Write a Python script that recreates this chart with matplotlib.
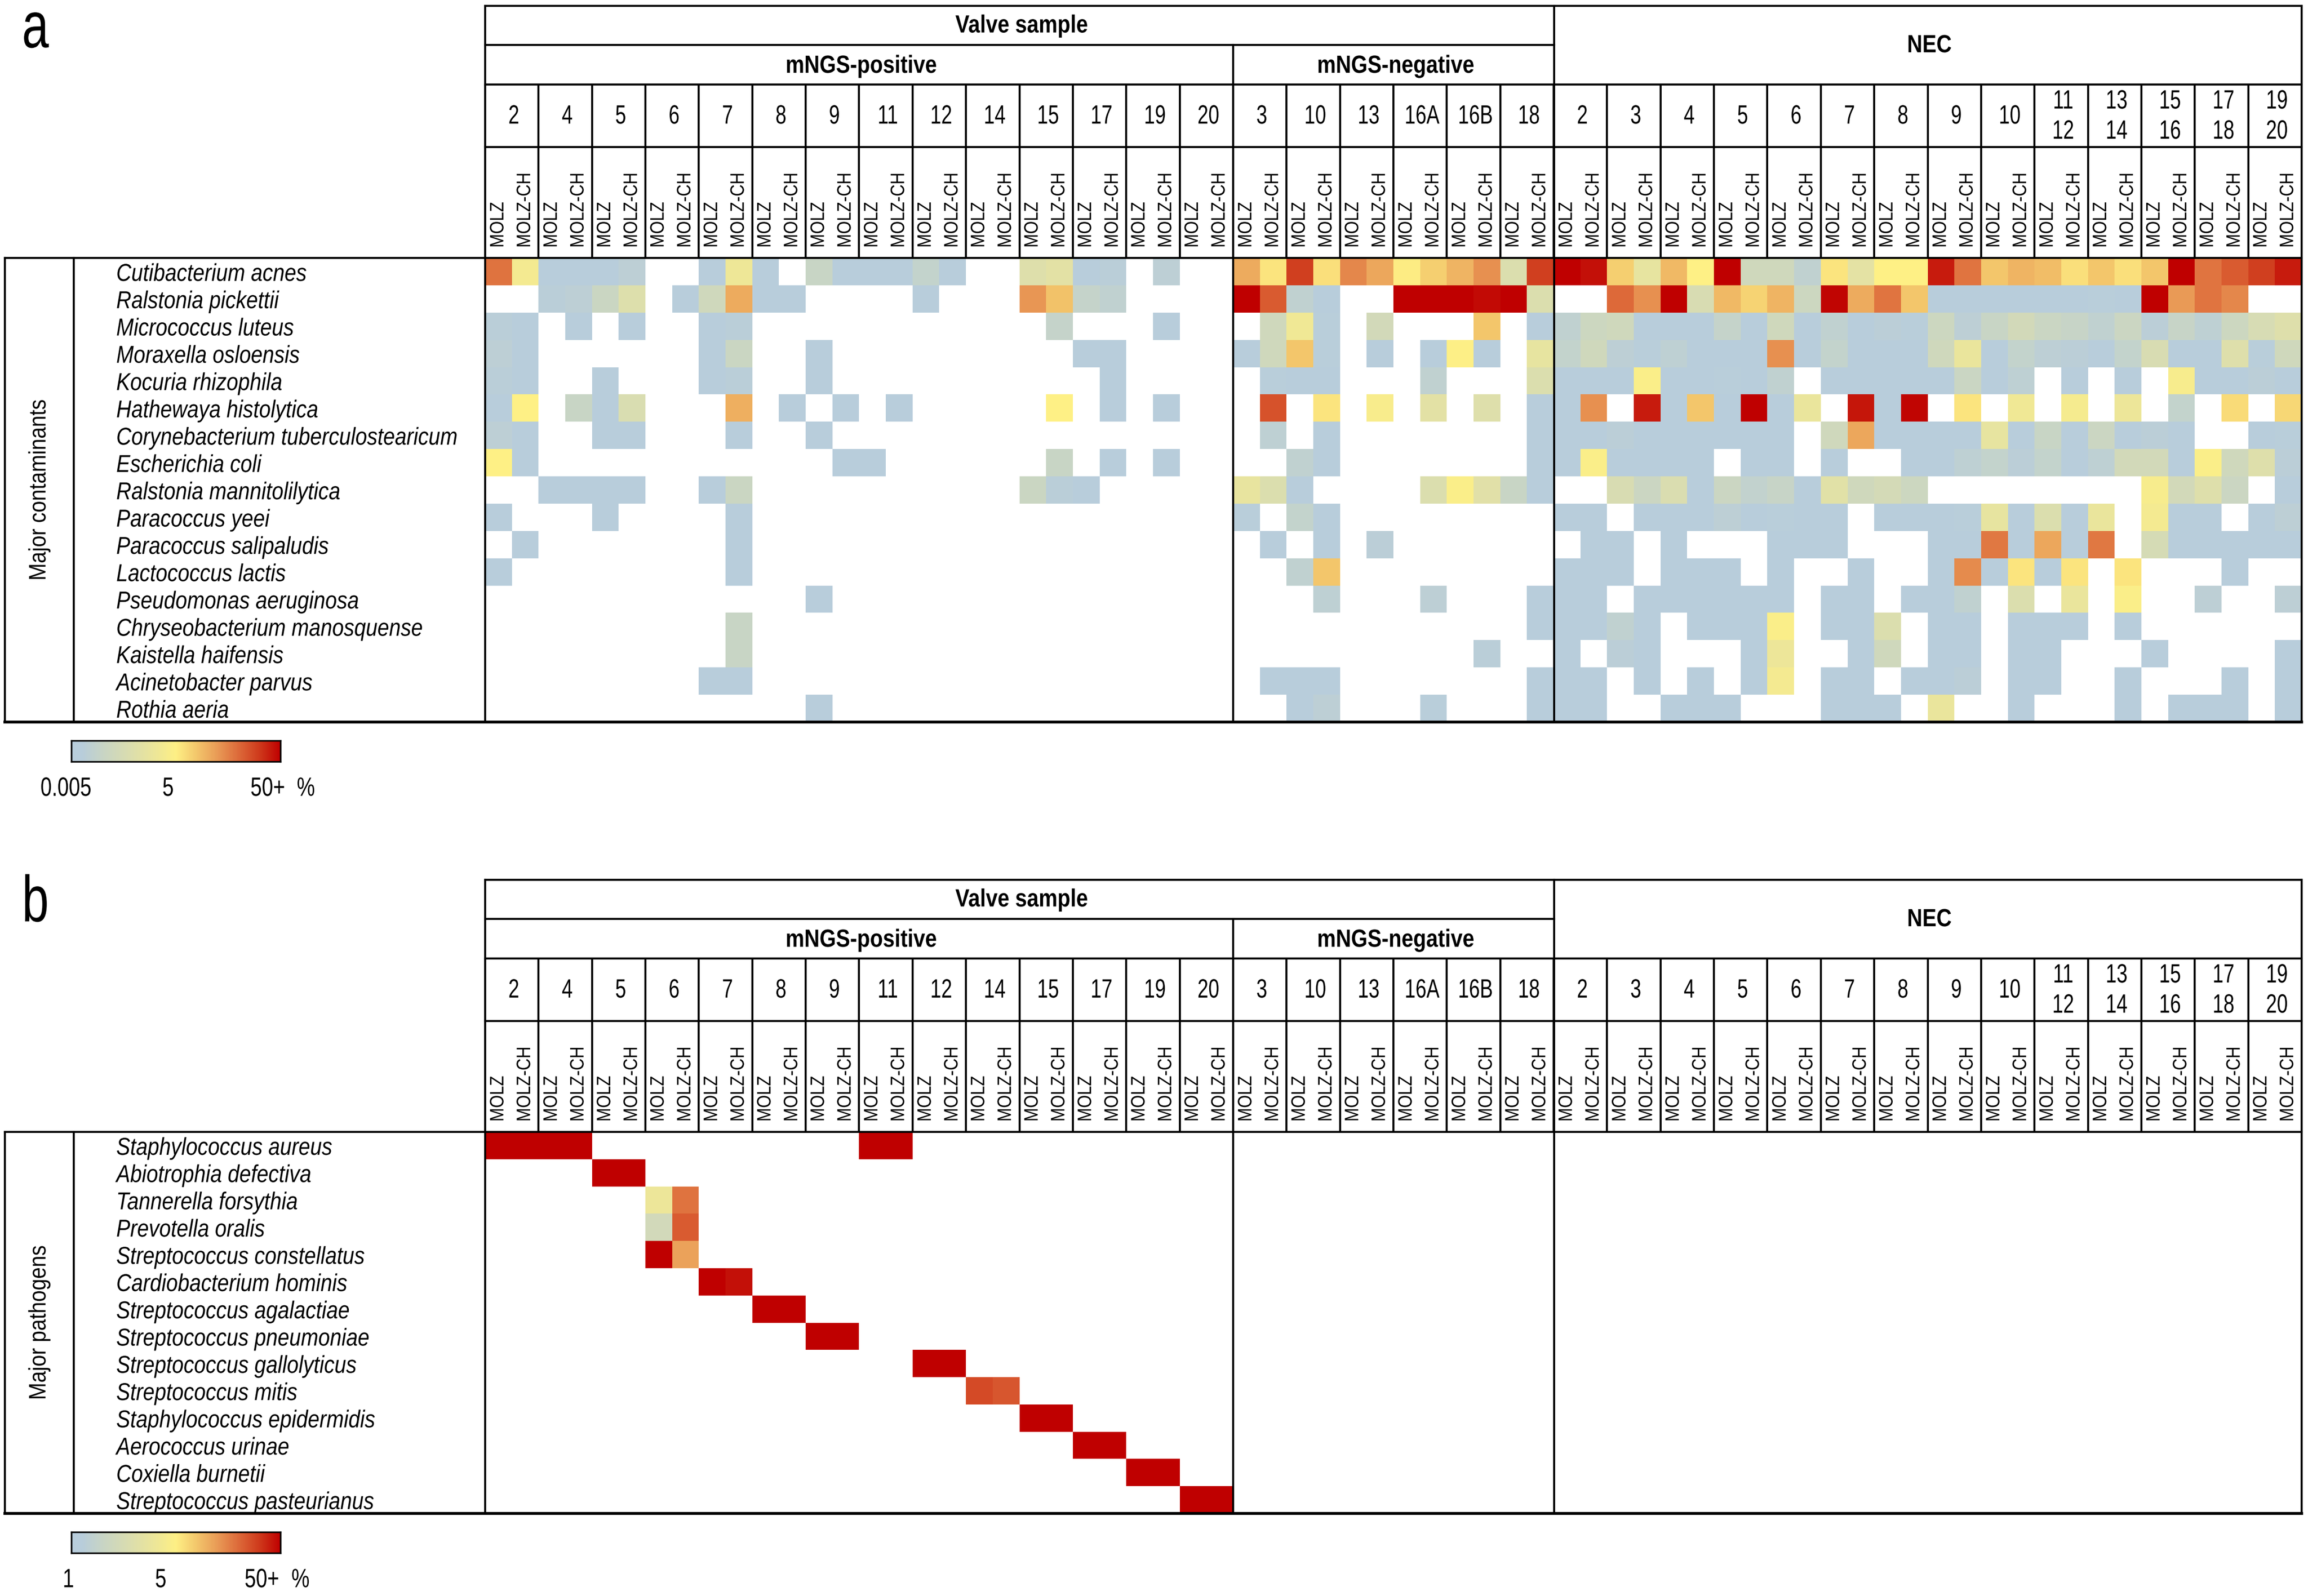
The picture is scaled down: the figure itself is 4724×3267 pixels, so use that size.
import numpy as np
import matplotlib
matplotlib.use("Agg")
import matplotlib.pyplot as plt
from matplotlib.colors import LinearSegmentedColormap, FuncNorm
from matplotlib.patheffects import AbstractPathEffect
from matplotlib.transforms import Affine2D

# canvas in pixels, everything below is laid out in these units
W, H = 4724, 3267
DPI = 300

plt.rcParams['font.family'] = ['Liberation Sans', 'DejaVu Sans']

# sample labels
pos_samples = ['2', '4', '5', '6', '7', '8', '9', '11', '12', '14', '15', '17', '19', '20']
neg_samples = ['3', '10', '13', '16A', '16B', '18']
nec_samples = ['2', '3', '4', '5', '6', '7', '8', '9', '10', '11\n12', '13\n14', '15\n16', '17\n18', '19\n20']

contaminants = ['Cutibacterium acnes', 'Ralstonia pickettii', 'Micrococcus luteus', 'Moraxella osloensis',
                'Kocuria rhizophila', 'Hathewaya histolytica', 'Corynebacterium tuberculostearicum',
                'Escherichia coli', 'Ralstonia mannitolilytica', 'Paracoccus yeei', 'Paracoccus salipaludis',
                'Lactococcus lactis', 'Pseudomonas aeruginosa', 'Chryseobacterium manosquense',
                'Kaistella haifensis', 'Acinetobacter parvus', 'Rothia aeria']
pathogens = ['Staphylococcus aureus', 'Abiotrophia defectiva', 'Tannerella forsythia', 'Prevotella oralis',
             'Streptococcus constellatus', 'Cardiobacterium hominis', 'Streptococcus agalactiae',
             'Streptococcus pneumoniae', 'Streptococcus gallolyticus', 'Streptococcus mitis',
             'Staphylococcus epidermidis', 'Aerococcus urinae', 'Coxiella burnetii', 'Streptococcus pasteurianus']

# percent of reads, 0 = not detected. each row has MOLZ, MOLZ-CH per sample
a_pos = [
    [18.2, 2.2, .007, .007, .009, .015, 0, 0, .007, 1.4, .007, 0, .04, .007, .007, .007, .026, .007, 0, 0, .32, .5, .01, .012, 0, .015, 0, 0],
    [0, 0, .012, .015, .05, .3, 0, .007, .08, 10.5, .007, .007, 0, 0, 0, 0, .007, 0, 0, 0, 13, 8.2, .03, .02, 0, 0, 0, 0],
    [.012, .009, 0, .007, 0, .007, 0, 0, .007, .012, 0, 0, 0, 0, 0, 0, 0, 0, 0, 0, 0, .03, 0, 0, 0, .007, 0, 0],
    [.015, .007, 0, 0, 0, 0, 0, 0, .007, .05, 0, 0, .007, 0, 0, 0, 0, 0, 0, 0, 0, 0, .007, .007, 0, 0, 0, 0],
    [.012, .007, 0, 0, .007, 0, 0, 0, .008, .012, 0, 0, .007, 0, 0, 0, 0, 0, 0, 0, 0, 0, 0, .007, 0, 0, 0, 0],
    [.007, 5, 0, .04, .007, .2, 0, 0, 0, 10, 0, .009, 0, .007, 0, .007, 0, 0, 0, 0, 0, 5, 0, .007, 0, .007, 0, 0],
    [.015, .007, 0, 0, .007, .007, 0, 0, 0, .007, 0, 0, .01, 0, 0, 0, 0, 0, 0, 0, 0, 0, 0, 0, 0, 0, 0, 0],
    [5, .007, 0, 0, 0, 0, 0, 0, 0, 0, 0, 0, 0, .007, .007, 0, 0, 0, 0, 0, 0, .04, 0, .007, 0, .007, 0, 0],
    [0, 0, .007, .007, .007, .007, 0, 0, .007, .05, 0, 0, 0, 0, 0, 0, 0, 0, 0, 0, .05, .012, .007, 0, 0, 0, 0, 0],
    [.007, 0, 0, 0, .007, 0, 0, 0, 0, .007, 0, 0, 0, 0, 0, 0, 0, 0, 0, 0, 0, 0, 0, 0, 0, 0, 0, 0],
    [0, .007, 0, 0, 0, 0, 0, 0, 0, .007, 0, 0, 0, 0, 0, 0, 0, 0, 0, 0, 0, 0, 0, 0, 0, 0, 0, 0],
    [.007, 0, 0, 0, 0, 0, 0, 0, 0, .007, 0, 0, 0, 0, 0, 0, 0, 0, 0, 0, 0, 0, 0, 0, 0, 0, 0, 0],
    [0, 0, 0, 0, 0, 0, 0, 0, 0, 0, 0, 0, .007, 0, 0, 0, 0, 0, 0, 0, 0, 0, 0, 0, 0, 0, 0, 0],
    [0, 0, 0, 0, 0, 0, 0, 0, 0, .04, 0, 0, 0, 0, 0, 0, 0, 0, 0, 0, 0, 0, 0, 0, 0, 0, 0, 0],
    [0, 0, 0, 0, 0, 0, 0, 0, 0, .04, 0, 0, 0, 0, 0, 0, 0, 0, 0, 0, 0, 0, 0, 0, 0, 0, 0, 0],
    [0, 0, 0, 0, 0, 0, 0, 0, .007, .007, 0, 0, 0, 0, 0, 0, 0, 0, 0, 0, 0, 0, 0, 0, 0, 0, 0, 0],
    [0, 0, 0, 0, 0, 0, 0, 0, 0, 0, 0, 0, .007, 0, 0, 0, 0, 0, 0, 0, 0, 0, 0, 0, 0, 0, 0, 0],
]
a_neg = [
    [10.5, 5.7, 30, 6, 15, 11, 5.2, 7.2, 9.5, 13.8, .24, 30],
    [50, 23, .02, .007, 0, 0, 50, 50, 50, 46, 50, .24],
    [0, .08, 1.66, .011, 0, .1, 0, 0, 0, 7.9, 0, .009],
    [.01, .08, 7.9, .011, 0, .008, 0, .01, 4.5, .01, 0, .72],
    [0, .011, .01, .009, 0, 0, 0, .02, 0, 0, 0, .24],
    [0, 25, 0, 5.7, 0, 3, 0, .5, 0, .32, 0, .009],
    [0, .017, 0, .007, 0, 0, 0, 0, 0, 0, 0, .007],
    [0, 0, .02, .008, 0, 0, 0, 0, 0, 0, 0, .008],
    [.8, .24, .007, 0, 0, 0, 0, .24, 3.8, .4, .04, .008],
    [.011, 0, .026, .008, 0, 0, 0, 0, 0, 0, 0, 0],
    [0, .007, 0, .008, 0, .013, 0, 0, 0, 0, 0, 0],
    [0, 0, .02, 7.9, 0, 0, 0, 0, 0, 0, 0, 0],
    [0, 0, 0, .017, 0, 0, 0, .015, 0, 0, 0, .007],
    [0, 0, 0, 0, 0, 0, 0, 0, 0, 0, 0, .007],
    [0, 0, 0, 0, 0, 0, 0, 0, 0, .012, 0, 0],
    [0, .007, .007, .007, 0, 0, 0, 0, 0, 0, 0, .007],
    [0, 0, .007, .015, 0, 0, 0, .011, 0, 0, 0, .007],
]
a_nec = [
    [50, 44, 7.2, .72, 9.1, 5, 50, .08, .08, .02, 5.7, .55, 5, 5, 40, 18, 7.9, 9.5, 8.7, 6, 7.9, 6, 7.9, 50, 18, 23, 30, 40],
    [0, 0, 20, 13.8, 50, .18, 9.1, 6.9, 9.5, .06, 48, 10.5, 18, 7.9, .008, .009, .01, .008, .008, .009, .011, .009, 50, 12.6, 18, 15, 0, 0],
    [.02, .06, .08, .01, .01, .01, .03, .01, .08, .007, .02, .009, .013, .011, .06, .015, .04, .1, .046, .035, .02, .052, .013, .035, .017, .06, .16, .32],
    [.026, .08, .015, .011, .017, .01, .01, .01, 13.8, .007, .026, .008, .008, .008, .08, .95, .01, .026, .015, .013, .01, .026, .18, .01, .01, .32, .011, .08],
    [.009, .008, .009, 3.8, .008, .008, .011, .01, .02, 0, .008, .008, .008, .008, .008, .046, .009, .017, 0, .01, 0, .01, 0, 2.9, .008, .008, .013, .01],
    [.008, 13.8, 0, 40, .008, 7.9, .008, 50, .009, .95, 0, 42, .008, 48, 0, 5.7, 0, 1.66, 0, 2.5, 0, 1.26, 0, .026, 0, 6.3, 0, 6.6],
    [.009, .009, .013, .008, .009, .009, .008, .008, .008, 0, .08, 11, .008, .008, .008, .01, .72, .01, .04, .008, .052, .008, .013, .008, 0, 0, .008, .011],
    [.01, 3.8, .008, .008, .008, .009, 0, .008, .008, 0, .008, 0, 0, .008, .008, .017, .026, .013, .026, .01, .017, .1, .1, .009, 3.8, .08, .32, .013],
    [0, 0, .18, .052, .21, .008, .052, .023, .035, .008, .42, .08, .12, .06, 0, 0, 0, 0, 0, 0, 0, 0, 2.9, .1, .32, .052, 0, .008],
    [.008, .008, 0, .008, .008, .008, .015, .008, .011, .008, .008, 0, .008, .008, .008, .011, .72, .008, .24, .008, .95, 0, 2.2, .008, .008, 0, .01, .015],
    [0, .008, .008, 0, .008, 0, 0, 0, .008, .008, .008, 0, 0, 0, .008, .008, 17.4, .008, 11, .008, 17.4, 0, .14, .008, .009, .008, .008, .008],
    [.008, .008, .008, 0, .008, .01, .009, 0, .008, 0, 0, .008, 0, 0, .008, 14.5, .008, 5.7, .008, 5.7, 0, 5.7, 0, 0, 0, .008, 0, 0],
    [.008, .008, 0, .008, .008, .008, .008, .008, .008, 0, .008, .008, 0, .008, .008, .02, 0, .24, 0, .95, 0, 3.8, 0, 0, .015, 0, 0, .015],
    [.008, .008, .02, .008, 0, .008, .008, .01, 3.8, 0, .008, .008, .24, 0, .008, .008, 0, .008, .008, .008, 0, .008, 0, 0, 0, 0, 0, 0],
    [.008, 0, .013, .008, 0, 0, 0, .008, 1.26, 0, 0, .008, .08, 0, .008, .008, 0, .008, .008, 0, 0, 0, .008, 0, 0, 0, 0, .008],
    [.008, .008, 0, .008, 0, .008, 0, .008, 2.2, 0, .008, .008, 0, .008, .008, .013, 0, .008, .008, 0, 0, .008, 0, 0, 0, .008, 0, .008],
    [.008, .008, 0, 0, .008, .008, .008, 0, 0, 0, .008, .008, .008, 0, .95, 0, 0, .008, 0, 0, 0, .008, 0, .008, .008, .008, 0, .008],
]

b_pos = [
    [50, 50, 50, 50, 0, 0, 0, 0, 0, 0, 0, 0, 0, 0, 50, 50, 0, 0, 0, 0, 0, 0, 0, 0, 0, 0, 0, 0],
    [0, 0, 0, 0, 50, 50, 0, 0, 0, 0, 0, 0, 0, 0, 0, 0, 0, 0, 0, 0, 0, 0, 0, 0, 0, 0, 0, 0],
    [0, 0, 0, 0, 0, 0, 3.6, 18.2, 0, 0, 0, 0, 0, 0, 0, 0, 0, 0, 0, 0, 0, 0, 0, 0, 0, 0, 0, 0],
    [0, 0, 0, 0, 0, 0, 2, 23, 0, 0, 0, 0, 0, 0, 0, 0, 0, 0, 0, 0, 0, 0, 0, 0, 0, 0, 0, 0],
    [0, 0, 0, 0, 0, 0, 50, 11.5, 0, 0, 0, 0, 0, 0, 0, 0, 0, 0, 0, 0, 0, 0, 0, 0, 0, 0, 0, 0],
    [0, 0, 0, 0, 0, 0, 0, 0, 50, 43.7, 0, 0, 0, 0, 0, 0, 0, 0, 0, 0, 0, 0, 0, 0, 0, 0, 0, 0],
    [0, 0, 0, 0, 0, 0, 0, 0, 0, 0, 50, 50, 0, 0, 0, 0, 0, 0, 0, 0, 0, 0, 0, 0, 0, 0, 0, 0],
    [0, 0, 0, 0, 0, 0, 0, 0, 0, 0, 0, 0, 50, 50, 0, 0, 0, 0, 0, 0, 0, 0, 0, 0, 0, 0, 0, 0],
    [0, 0, 0, 0, 0, 0, 0, 0, 0, 0, 0, 0, 0, 0, 0, 0, 50, 50, 0, 0, 0, 0, 0, 0, 0, 0, 0, 0],
    [0, 0, 0, 0, 0, 0, 0, 0, 0, 0, 0, 0, 0, 0, 0, 0, 0, 0, 27, 24, 0, 0, 0, 0, 0, 0, 0, 0],
    [0, 0, 0, 0, 0, 0, 0, 0, 0, 0, 0, 0, 0, 0, 0, 0, 0, 0, 0, 0, 50, 50, 0, 0, 0, 0, 0, 0],
    [0, 0, 0, 0, 0, 0, 0, 0, 0, 0, 0, 0, 0, 0, 0, 0, 0, 0, 0, 0, 0, 0, 50, 50, 0, 0, 0, 0],
    [0, 0, 0, 0, 0, 0, 0, 0, 0, 0, 0, 0, 0, 0, 0, 0, 0, 0, 0, 0, 0, 0, 0, 0, 50, 50, 0, 0],
    [0, 0, 0, 0, 0, 0, 0, 0, 0, 0, 0, 0, 0, 0, 0, 0, 0, 0, 0, 0, 0, 0, 0, 0, 0, 0, 50, 50],
]

cmap = LinearSegmentedColormap.from_list('rel_abund', [
    (0.0, '#b8cddb'), (0.05, '#b8cddb'), (0.15, '#c8d5c5'), (0.3, '#dedfab'), (0.42, '#f0e895'), (0.5, '#fef085'),
    (0.6, '#f3c66b'), (0.7, '#e99a56'), (0.8, '#dd6a3a'), (0.9, '#cf3a1c'), (1.0, '#bf0000')], N=512)
cmap.set_bad('white')


def make_norm(vmin):
    # log scale on both sides of the 5 % midpoint
    xp = np.log10([vmin, 5, 50])
    fp = [0, 0.5, 1]

    def forward(v):
        # masked cells have to stay nan, np.interp drops masks
        v = np.ma.filled(np.ma.asarray(v, dtype=float), np.nan)
        return np.interp(np.log10(v), xp, fp)

    def inverse(t):
        return 10 ** np.interp(t, fp, xp)
    return FuncNorm((forward, inverse), vmin=vmin, vmax=50)


class Squeeze(AbstractPathEffect):
    # the original type is a narrow face, none is installed so squeeze x around the anchor
    def __init__(self, x0, sx):
        super().__init__()
        self.x0 = x0
        self.sx = sx

    def draw_path(self, renderer, gc, tpath, affine, rgbFace=None):
        squeeze = Affine2D().translate(-self.x0, 0).scale(self.sx, 1).translate(self.x0, 0)
        renderer.draw_path(gc, tpath, affine + squeeze, rgbFace)


fig = plt.figure(figsize=(W / DPI, H / DPI), dpi=DPI, facecolor='white')

# overlay for table lines and text, y goes down like in the picture
ov = fig.add_axes([0, 0, 1, 1], zorder=5)
ov.set_xlim(0, W)
ov.set_ylim(H, 0)
ov.axis('off')
ov.patch.set_alpha(0)


def label(x, y, s, sx=None, **kw):
    t = ov.text(x, y, s, **kw)
    if sx is not None:
        t.set_path_effects([Squeeze(ov.transData.transform((x, y))[0], sx)])
    return t


def px_axes(x0, y0, x1, y1, zorder=1):
    return fig.add_axes([x0 / W, 1 - y1 / H, (x1 - x0) / W, (y1 - y0) / H], zorder=zorder)


X_BOX, X_NAME, X_HEAT, X_NEG, X_NEC, X_END = 10, 151, 993, 2524, 3181, 4711
PAIR_W = (X_END - X_HEAT) / 34
LW = 1.0


def draw_panel(letter, dy, y_bottom, values, names, group, vmin, legend_labels, legend_x):
    y_top, y_mid, y_num, y_lab, y_heat = 12 + dy, 92 + dy, 173 + dy, 301 + dy, 528 + dy

    ax = px_axes(X_HEAT, y_heat, X_END, y_bottom)
    data = np.array(values, dtype=float)
    data[data <= 0] = np.nan
    ax.pcolormesh(data, cmap=cmap, norm=make_norm(vmin), edgecolors='none')
    ax.invert_yaxis()
    ax.axis('off')

    # table frame
    for x0, x1, y in [(X_HEAT, X_END, y_top), (X_HEAT, X_NEC, y_mid), (X_HEAT, X_END, y_num),
                      (X_HEAT, X_END, y_lab), (X_BOX, X_END, y_heat)]:
        ov.plot([x0, x1], [y, y], color='black', lw=LW, solid_capstyle='projecting')
    ov.plot([X_BOX, X_END], [y_bottom, y_bottom], color='black', lw=LW * 1.4, solid_capstyle='projecting')
    for x, y0 in [(X_BOX, y_heat), (X_NAME, y_heat), (X_HEAT, y_top), (X_NEG, y_mid), (X_NEC, y_top), (X_END, y_top)]:
        ov.plot([x, x], [y0, y_bottom], color='black', lw=LW, solid_capstyle='projecting')

    # headers
    bold = dict(ha='center', va='center', fontsize=12.2, fontweight='bold', sx=0.85)
    label((X_HEAT + X_NEC) / 2 + 4, (y_top + y_mid) / 2 + 1, 'Valve sample', **bold)
    label((X_HEAT + X_NEG) / 2 + 4, (y_mid + y_num) / 2 + 3, 'mNGS-positive', **bold)
    label((X_NEG + X_NEC) / 2 + 4, (y_mid + y_num) / 2 + 3, 'mNGS-negative', **bold)
    label((X_NEC + X_END) / 2 + 3, (y_top + y_num) / 2 + 1, 'NEC', **bold)

    # one number cell and two method labels per sample
    samples = pos_samples + neg_samples + nec_samples
    for i, s in enumerate(samples):
        x0 = X_HEAT + i * PAIR_W
        ov.plot([x0, x0], [y_num, y_heat], color='black', lw=LW, solid_capstyle='butt')
        label(x0 + PAIR_W / 2 + 4, (y_num + y_lab) / 2 + 2, s, sx=0.74, ha='center', va='center', fontsize=13, linespacing=1.3)
        for frac, method in [(0.25, 'MOLZ'), (0.75, 'MOLZ-CH')]:
            label(x0 + PAIR_W * frac, y_heat - 21, method, sx=1.18, rotation=90, ha='center', va='bottom', fontsize=8.1)

    # species names
    row_h = (y_bottom - y_heat) / len(names)
    for j, name in enumerate(names):
        label(238, y_heat + (j + 0.5) * row_h + 6, name, sx=0.855, style='italic', ha='left', va='center', fontsize=12)
    label((X_BOX + X_NAME) / 2, (y_heat + y_bottom) / 2, group, sx=1.15, rotation=90, ha='center', va='center', fontsize=10.2)

    # panel letter
    label(45, 97 + dy, letter, sx=0.74, ha='left', va='baseline', fontsize=32)

    # colour key
    cax = px_axes(146, y_bottom + 38, 574, y_bottom + 81, zorder=2)
    cax.imshow(np.linspace(0, 1, 512)[None, :], cmap=cmap, aspect='auto')
    cax.set_xticks([])
    cax.set_yticks([])
    for sp in cax.spines.values():
        sp.set_linewidth(0.8)
    for txt, x in zip(legend_labels, legend_x):
        label(x, y_bottom + 137, txt, sx=0.77, ha='center', va='center', fontsize=13)


a_values = [p + n + c for p, n, c in zip(a_pos, a_neg, a_nec)]
b_values = [p + [0] * 40 for p in b_pos]

draw_panel('a', 0, 1478, a_values, contaminants, 'Major contaminants', 0.005,
           ['0.005', '5', '50+', '%'], [135, 344, 548, 626])
draw_panel('b', 1789, 3098, b_values, pathogens, 'Major pathogens', 1,
           ['1', '5', '50+', '%'], [140, 329, 536, 615])

fig.savefig('out.png', dpi=DPI, facecolor='white')
